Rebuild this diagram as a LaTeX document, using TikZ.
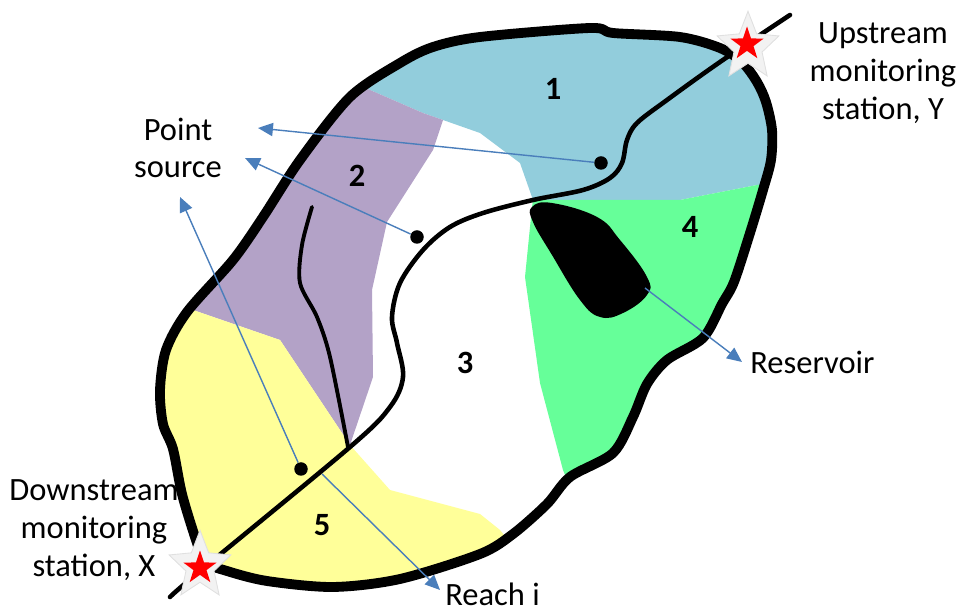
\documentclass[tikz,border=0pt]{standalone}
\usepackage{fontspec}
\setmainfont{Carlito}
\usepackage{tikz}
\usetikzlibrary{positioning,shapes.geometric,arrows.meta}
\definecolor{zone1}{HTML}{92CDDC}
\definecolor{zone2}{HTML}{B3A2C7}
\definecolor{zone4}{HTML}{66FF99}
\definecolor{zone5}{HTML}{FFFF99}
\definecolor{arrowblue}{HTML}{4A7EBB}
\tikzset{
  point/.style={shape=circle,fill=black,inner sep=0pt,
    font=\nullfont,minimum width=0.27cm},
  station/.style={star,star points=5,star point ratio=2.55,inner sep=0pt,
    fill=red,font=\nullfont,minimum size=0.7cm},
  halo/.style={star,star points=5,star point ratio=2.2,inner sep=0pt,
    fill=black!5,draw=black!12,line width=0.5pt,font=\nullfont,
    minimum size=1.3cm,yscale=1.1},
  pointer/.style={draw=arrowblue,line width=0.8pt,
    -{Triangle[length=8.5pt,width=7.5pt]}},
  rim/.style={line width=5.6pt,line join=round},
  river/.style={line width=2.6pt,line cap=round},
  caption/.style={align=center,inner sep=0pt},
  zonenum/.style={font=\fontsize{18.5}{21.5}\selectfont\bfseries}
}
\newcommand{\basinrim}{plot[smooth cycle,tension=0.5] coordinates {
  (205,562) (196,540) (182,494) (173,449) (163,424) (160,390) (166,350)
  (187,312) (233,260) (263,217) (300,160) (350,97) (400,63) (433,47)
  (480,37) (590,28) (613,33) (680,37) (720,48) (742,62) (757,82)
  (766,102) (772,130) (771,160) (763,190) (750,233) (734,282) (722,304)
  (703,338) (667,360) (647,384) (633,417) (613,453) (570,477) (547,504)
  (513,534) (480,554) (400,579) (333,587) (267,581) (227,571)}}

\begin{document}
\begin{tikzpicture}[x=0.02cm,y=-0.02cm,font=\fontsize{18.5}{21.5}\selectfont]
  \useasboundingbox (0,0) rectangle (961,614);
  \begin{scope}
    \clip \basinrim;
    \fill[zone1] (330,73) -- (330,-10) -- (800,-10) -- (800,183) -- (757,185)
      -- (680,200) -- (533,200) -- (520,163) -- (480,133) -- (443,120)
      -- (423,113) -- (377,93) -- cycle;
    \fill[zone2] (330,73) -- (377,93) -- (423,113) -- (443,120) -- (433,150)
      -- (387,222) -- (372,290) -- (373,377) -- (350,445) -- (280,340)
      -- (193,310) -- (130,290) -- (130,73) -- cycle;
    \fill[zone5] (130,290) -- (193,310) -- (280,340) -- (350,445) -- (390,490)
      -- (480,514) -- (500,530) -- (520,555) -- (520,620) -- (130,620) -- cycle;
    \fill[zone4] (533,200) -- (680,200) -- (757,185) -- (800,183) -- (800,500)
      -- (575,500) -- (563,470) -- (540,383) -- (525,277) -- (532,207) -- cycle;
  \end{scope}
  \draw[rim] \basinrim;
  \draw[river] plot[smooth,tension=0.55] coordinates {(170,597) (200,571)
    (350,447) (390,407) (403,377) (397,343) (392,317) (400,283) (423,250)
    (450,227) (483,213) (533,200) (583,190) (610,178) (622,163) (627,140)
    (637,123) (667,100) (720,62) (790,15)};
  \draw[river,line width=2.2pt] plot[smooth] coordinates {(312,207) (302,245)
    (300,283) (317,317) (330,357) (348,447)};
  \fill plot[smooth cycle,tension=0.7] coordinates {(532,207) (552,203)
    (597,217) (620,240) (647,277) (647,295) (623,313) (600,317) (580,300)
    (552,255) (533,222)};

  \node (ps1) [point] at (601,163) {};
  \node (ps2) [point] at (417,237) {};
  \node (ps3) [point] at (301,469) {};
  \coordinate (reach) at (322,474);
  \coordinate (dam) at (645,288);
  \coordinate (tip1) at (258,128);
  \coordinate (tip2) at (245,158);
  \coordinate (tip3) at (180,197);
  \coordinate (tip4) at (742,362);
  \coordinate (tip5) at (440,590);
  \draw[pointer] (ps1) -- (tip1);
  \draw[pointer] (ps2) -- (tip2);
  \draw[pointer] (ps3) -- (tip3);
  \draw[pointer] (dam) -- (tip4);
  \draw[pointer] (reach) -- (tip5);

  \node (haloY) [halo] at (748,47) {};
  \node (stY) [station] at (747,44) {};
  \node (haloX) [halo] at (200,566) {};
  \node (stX) [station] at (200,568) {};

  \node (z1) [zonenum] at (553,89) {1};
  \node (z2) [zonenum] at (357,176) {2};
  \node (z3) [zonenum] at (465,363) {3};
  \node (z4) [zonenum] at (690,227) {4};
  \node (z5) [zonenum] at (322,525) {5};

  \node (upname) [caption] at (883,73) {Upstream\\monitoring\\station, Y};
  \node (psname) [caption] at (178,148) {Point\\source};
  \node (downname) [caption] at (94,530) {Downstream\\monitoring\\station, X};
  \node (resname) [caption,anchor=base west] at (750,374) {Reservoir};
  \node (reachname) [caption,anchor=base west] at (445,606) {Reach i};
\end{tikzpicture}
\end{document}
